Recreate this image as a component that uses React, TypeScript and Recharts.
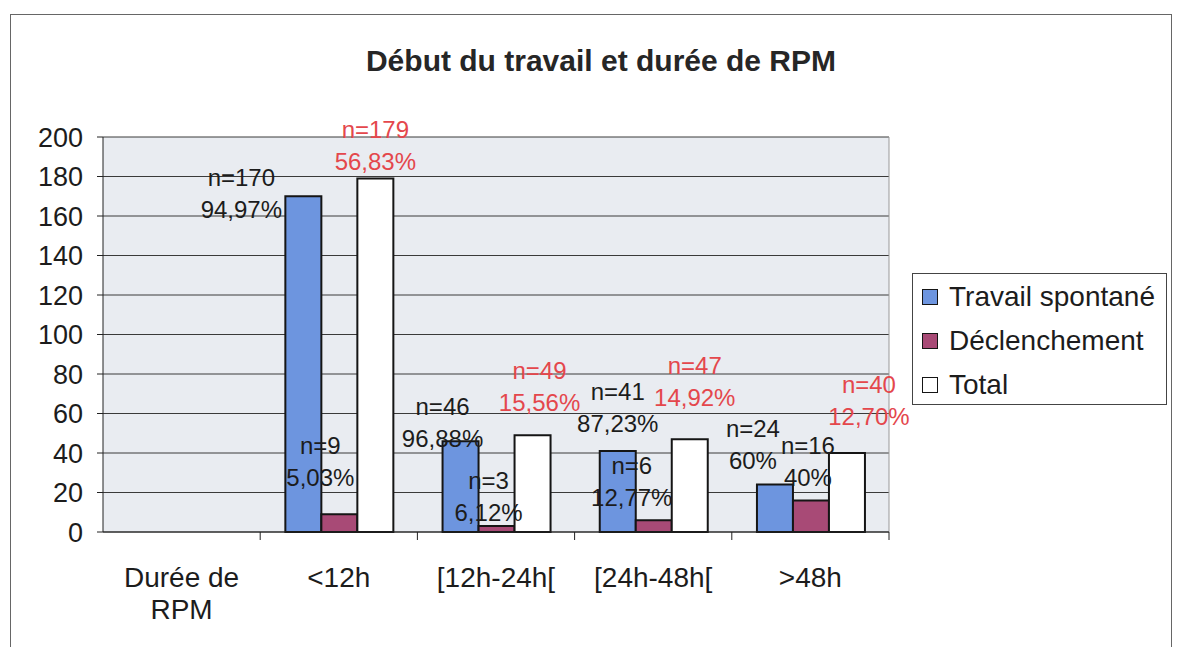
import { BarChart, Bar, XAxis, YAxis, CartesianGrid, LabelList } from 'recharts';

const categories = ['Durée de RPM', '<12h', '[12h-24h[', '[24h-48h[', '>48h'];
const spontane = [0, 170, 46, 41, 24];
const declenchement = [0, 9, 3, 6, 16];
const total = [0, 179, 49, 47, 40];
const pctSpontane = ['', '94,97%', '96,88%', '87,23%', '60%'];
const pctDeclenchement = ['', '5,03%', '6,12%', '12,77%', '40%'];
const pctTotal = ['', '56,83%', '15,56%', '14,92%', '12,70%'];
const yTicks = [0, 20, 40, 60, 80, 100, 120, 140, 160, 180, 200];

// décalage des étiquettes (placées à la main dans l'original) : [dx, dy] par rapport au haut de la barre
const nudgeSpontane = [[0, 0], [-62, 13], [-18, -3], [0, -28], [-22, -24]];
const nudgeDecl = [[0, 0], [-19, -37], [-8, -14], [-22, -23], [-3, -23]];
const nudgeTotal = [[0, 0], [0, -17], [7, -33], [5, -42], [22, -37]];

const FONT = '"Liberation Sans", Arial, sans-serif';
const BLACK = '#1c1c1c';
const RED = '#e4474c';

const MARGIN = { top: 137, right: 294, bottom: 35, left: 43 };
const Y_WIDTH = 60;
const W = 1183;
const H = 647;

const series = [
  { key: 'spontane', name: 'Travail spontané', color: '#6d95df', pct: pctSpontane, nudge: nudgeSpontane, text: BLACK },
  { key: 'declenchement', name: 'Déclenchement', color: '#a84a76', pct: pctDeclenchement, nudge: nudgeDecl, text: BLACK },
  { key: 'total', name: 'Total', color: '#ffffff', pct: pctTotal, nudge: nudgeTotal, text: RED },
];

const data = categories.map((c, i) => ({
  cat: c,
  spontane: spontane[i],
  declenchement: declenchement[i],
  total: total[i],
}));

function wrap(s: string): string[] {
  if (s.length <= 10 || !s.includes(' ')) return [s];
  const cut = s.lastIndexOf(' ', 9);
  return [s.slice(0, cut), s.slice(cut + 1)];
}

function CatTick(props: any) {
  const { x, y, payload, index, visibleTicksCount } = props;
  const half = payload?.offset ?? 78.6;
  const lines = wrap(String(payload.value));
  const last = visibleTicksCount ? index === visibleTicksCount - 1 : index === categories.length - 1;
  return (
    <g>
      {index > 0 && <line x1={x - half} x2={x - half} y1={y} y2={y + 8} stroke="#222" strokeWidth={1} />}
      {last && <line x1={x + half} x2={x + half} y1={y} y2={y + 8} stroke="#222" strokeWidth={1} />}
      {lines.map((l, i) => (
        <text key={i} x={x} y={y + 45 + i * 32} textAnchor="middle" dominantBaseline="central"
          fontSize={28} fontFamily={FONT} fill={BLACK}>{l}</text>
      ))}
    </g>
  );
}

// retrouve la catégorie à partir de la position de la barre dans la zone de tracé
function categoryAt(cx: number): number {
  const left = MARGIN.left + Y_WIDTH;
  const band = (W - MARGIN.right - left) / categories.length;
  return Math.max(0, Math.min(categories.length - 1, Math.floor((cx - left) / band)));
}

function makeLabel(s: typeof series[number]) {
  return (props: any) => {
    const vb = props.viewBox ?? props;
    const v = props.value;
    if (!v || vb?.x == null) return null;
    const idx = categoryAt(vb.x + vb.width / 2);
    if (!s.pct[idx]) return null;
    const [dx, dy] = s.nudge[idx];
    const cx = vb.x + vb.width / 2 + dx;
    const y2 = vb.y + dy;
    return (
      <g>
        <text x={cx} y={y2 - 32} textAnchor="middle" dominantBaseline="central" fontSize={24} fontFamily={FONT} fill={s.text}>{`n=${v}`}</text>
        <text x={cx} y={y2} textAnchor="middle" dominantBaseline="central" fontSize={24} fontFamily={FONT} fill={s.text}>{s.pct[idx]}</text>
      </g>
    );
  };
}

export default function App() {
  return (
    <div style={{ position: 'absolute', left: 0, top: 0, width: W, height: H, background: '#fff', fontFamily: FONT, overflow: 'hidden' }}>
      <div style={{ position: 'absolute', left: 10, top: 14, width: 1162, height: 660, border: '1.5px solid #666', boxSizing: 'border-box' }} />
      <div style={{ position: 'absolute', left: 0, top: 44, width: 1202, textAlign: 'center', fontSize: 30, lineHeight: '34px', fontWeight: 'bold', color: '#262626' }}>
        Début du travail et durée de RPM
      </div>
      <div style={{ position: 'absolute', left: 0, top: 0 }}>
        <BarChart width={W} height={H} data={data} margin={MARGIN} barGap={0} barCategoryGap="16%">
          <CartesianGrid vertical={false} stroke="#3a3a3a" fill="#e9ecf1" fillOpacity={1} />
          <CartesianGrid horizontal={false} stroke="#999"
            verticalCoordinatesGenerator={({ offset }: any) => [offset.left + offset.width]} />
          <XAxis dataKey="cat" height={80} tickLine={false} tickSize={0} tickMargin={0}
            axisLine={{ stroke: '#222' }} tick={<CatTick />} interval={0} />
          <YAxis width={Y_WIDTH} domain={[0, 200]} ticks={yTicks} interval={0} tickSize={6} tickMargin={14}
            axisLine={{ stroke: '#222' }} tickLine={{ stroke: '#222' }}
            tick={{ fill: BLACK, fontSize: 27, fontFamily: FONT }} />
          {series.map((s) => (
            <Bar key={s.key} dataKey={s.key} name={s.name} fill={s.color} stroke="#151515" strokeWidth={2}
              isAnimationActive={false}>
              <LabelList dataKey={s.key} content={makeLabel(s)} />
            </Bar>
          ))}
        </BarChart>
      </div>
      <div style={{ position: 'absolute', left: 912, top: 273, width: 255, height: 132, border: '1.5px solid #444', background: '#fff', boxSizing: 'border-box' }}>
        {series.map((s, i) => (
          <div key={s.key} style={{ position: 'absolute', left: 9, top: 6 + i * 44, height: 34, display: 'flex', alignItems: 'center', whiteSpace: 'nowrap' }}>
            <span style={{ display: 'inline-block', width: 14, height: 14, background: s.color, border: '1.5px solid #151515', marginRight: 11 }} />
            <span style={{ fontSize: 28, color: BLACK }}>{s.name}</span>
          </div>
        ))}
      </div>
    </div>
  );
}
